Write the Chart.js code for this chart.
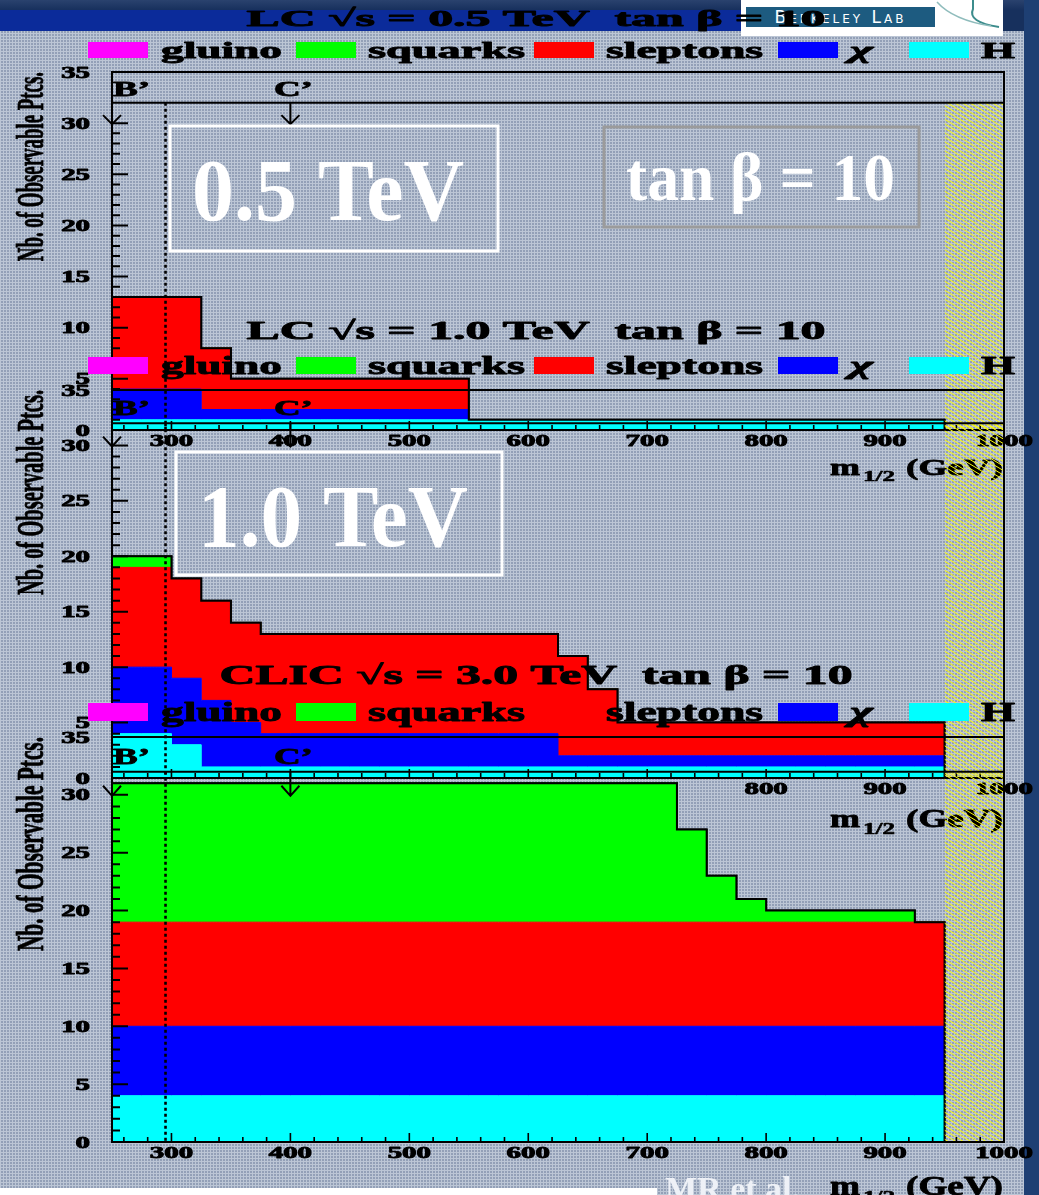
<!DOCTYPE html>
<html>
<head>
<meta charset="utf-8">
<script src="https://cdn.jsdelivr.net/npm/chart.js@4/dist/chart.umd.min.js"></script>
<style>
  html, body { margin: 0; padding: 0; }
  body {
    width: 1039px; height: 1195px; position: relative; overflow: hidden;
    background-color: #93a0b7;
    background-image:
      linear-gradient(90deg, #bcc6d5 1px, transparent 1px),
      linear-gradient(180deg, #bcc6d5 1px, transparent 1px);
    background-size: 3px 3px;
  }
  .abs { position: absolute; }
  #topband { left: 0; top: 0; width: 1039px; height: 31px; background: linear-gradient(#2a426e, #17305d 10px, #17305d); }
  #titlebar { left: 0; top: 10px; width: 741px; height: 21px; background: #0b2b9a; }
  #rstrip { left: 1024px; top: 0; width: 15px; height: 1195px; background: #1e3f73; }
  #logo { left: 741px; top: 0; width: 262px; height: 36px; background: #fff; }
  #logo .plate {
    position: absolute; left: 5px; top: 7px; width: 189px; height: 20px; background: #1d5b80;
    color: #fff; font: 17px "DejaVu Sans", sans-serif; font-variant: small-caps; letter-spacing: 3px;
    line-height: 20px; text-align: center;
  }
  #logo svg { position: absolute; left: 0; top: 0; }
  canvas { position: absolute; left: 0; top: 0; }
  #white { left: 0; top: 1188px; width: 657px; height: 7px; background: #fff; }
  #credit { left: 665px; top: 1172px; color: #eef1f7; font: bold 34px "Liberation Serif", serif; line-height: 34px; white-space: nowrap; }
</style>
</head>
<body>
<div id="topband" class="abs"></div>
<div id="titlebar" class="abs"></div>
<div id="rstrip" class="abs"></div>
<div id="logo" class="abs">
  <div class="plate">Berkeley Lab</div>
  <svg width="262" height="36">
    <path d="M232 0 L232 9 Q226 22 258 27" fill="none" stroke="#3c8c8c" stroke-width="2"/>
    <path d="M196 2 Q212 20 250 26" fill="none" stroke="#8fbcbc" stroke-width="1.5"/>
  </svg>
</div>
<canvas id="p05" width="1039" height="1195"></canvas>
<canvas id="p10" width="1039" height="1195"></canvas>
<canvas id="p30" width="1039" height="1195"></canvas>
<div id="white" class="abs"></div>
<div id="credit" class="abs">MR et al.</div>

<script>
// m_1/2 bin edges (GeV), 25 GeV bins, last edge closes the histogram
const binEdges = [250, 275, 300, 325, 350, 375, 400, 425, 450, 475, 500, 525, 550, 575, 600,
                  625, 650, 675, 700, 725, 750, 775, 800, 825, 850, 875, 900, 925, 950];

// LC 0.5 TeV
const higgs05   = [1,1,1,1,1,1,1,1,1,1,1,1,1,1,1,1,1,1,1,1,1,1,1,1,1,1,1,1];
const chi05     = [3,3,3,1,1,1,1,1,1,1,1,1,0,0,0,0,0,0,0,0,0,0,0,0,0,0,0,0];
const slepton05 = [9,9,9,6,3,3,3,3,3,3,3,3,0,0,0,0,0,0,0,0,0,0,0,0,0,0,0,0];
const squark05  = [0,0,0,0,0,0,0,0,0,0,0,0,0,0,0,0,0,0,0,0,0,0,0,0,0,0,0,0];
const gluino05  = [0,0,0,0,0,0,0,0,0,0,0,0,0,0,0,0,0,0,0,0,0,0,0,0,0,0,0,0];

// LC 1.0 TeV
const higgs10   = [4,4,3,1,1,1,1,1,1,1,1,1,1,1,1,1,1,1,1,1,1,1,1,1,1,1,1,1];
const chi10     = [6,6,6,6,4,3,3,3,3,3,3,3,3,3,3,1,1,1,1,1,1,1,1,1,1,1,1,1];
const slepton10 = [9,9,9,9,9,9,9,9,9,9,9,9,9,9,9,9,6,3,3,3,3,3,3,3,3,3,3,3];
const squark10  = [1,1,0,0,0,0,0,0,0,0,0,0,0,0,0,0,0,0,0,0,0,0,0,0,0,0,0,0];
const gluino10  = [0,0,0,0,0,0,0,0,0,0,0,0,0,0,0,0,0,0,0,0,0,0,0,0,0,0,0,0];

// CLIC 3.0 TeV
const higgs30   = [4,4,4,4,4,4,4,4,4,4,4,4,4,4,4,4,4,4,4,4,4,4,4,4,4,4,4,4];
const chi30     = [6,6,6,6,6,6,6,6,6,6,6,6,6,6,6,6,6,6,6,6,6,6,6,6,6,6,6,6];
const slepton30 = [9,9,9,9,9,9,9,9,9,9,9,9,9,9,9,9,9,9,9,9,9,9,9,9,9,9,9,9];
const squark30  = [12,12,12,12,12,12,12,12,12,12,12,12,12,12,12,12,12,12,12,8,4,2,1,1,1,1,1,0];
const gluino30  = [0,0,0,0,0,0,0,0,0,0,0,0,0,0,0,0,0,0,0,0,0,0,0,0,0,0,0,0];

// stacking order bottom -> top
const stackLabels = ['H', 'χ', 'sleptons', 'squarks', 'gluino'];
const stackColors = ['#00ffff', '#0000ff', '#ff0000', '#00ff00', '#ff00ff'];

// legend as printed (left -> right)
const legendLabels = ['gluino', 'squarks', 'sleptons', 'χ', 'H'];
const legendColors = ['#ff00ff', '#00ff00', '#ff0000', '#0000ff', '#00ffff'];

// axis ticks
const yTickLabels = [0, 5, 10, 15, 20, 25, 30, 35];
const xTickLabels = [300, 400, 500, 600, 700, 800, 900, 1000];

// reference points and excluded region
const markerLabels = ["B’", "C’"];
const markerMasses = [250, 400];
const dottedMass = 295;
const excluded = [950, 1000];
const boxTop = 32;

const SERIF = '"Liberation Serif", "DejaVu Serif", serif';

// Layout of the three overlaid panels (pixels)
const panels = [
  { id: 'p05', series: [higgs05, chi05, slepton05, squark05, gluino05],
    title: 'LC √s = 0.5 TeV  tan β = 10', titleW: 579, titleY: 26,
    legendBottom: 58, legendH: 16, yTop: 72, yZero: 430, fs: 24, xTitleY: 475,
    notes: [
      { text: '0.5 TeV', rect: [170, 126, 328, 125], border: '#ffffff', tx: 192, ty: 220, tw: 272, size: 88 },
      { text: 'tan β = 10', rect: [604, 127, 315, 100], border: '#9b9b9b', tx: 626, ty: 200, tw: 269, size: 68 },
    ] },
  { id: 'p10', series: [higgs10, chi10, slepton10, squark10, gluino10],
    title: 'LC √s = 1.0 TeV  tan β = 10', titleW: 579, titleY: 339,
    legendBottom: 374, legendH: 17, yTop: 390, yZero: 778, fs: 26, xTitleY: 827,
    notes: [
      { text: '1.0 TeV', rect: [176, 452, 326, 123], border: '#ffffff', tx: 198, ty: 546, tw: 270, size: 88 },
    ] },
  { id: 'p30', series: [higgs30, chi30, slepton30, squark30, gluino30],
    title: 'CLIC √s = 3.0 TeV  tan β = 10', titleW: 633, titleY: 684,
    legendBottom: 721, legendH: 18, yTop: 737, yZero: 1142, fs: 27, xTitleY: 1195,
    notes: [] },
];

// Stretched bold serif text (the original plot is squashed horizontally)
function stretchText(ctx, str, x, y, size, opts = {}) {
  const { width, sx = 1.7, align = 'left', color = '#000', heavy = 0, italic = false } = opts;
  ctx.save();
  ctx.font = `${italic ? 'italic ' : ''}bold ${size}px ${SERIF}`;
  const nat = ctx.measureText(str).width;
  const s = width ? width / nat : sx;
  ctx.translate(x, y);
  ctx.scale(s, 1);
  ctx.fillStyle = color;
  ctx.textAlign = 'left';
  ctx.textBaseline = 'alphabetic';
  const off = align === 'center' ? -nat / 2 : align === 'right' ? -nat : 0;
  ctx.fillText(str, off, 0);
  if (heavy) {
    ctx.strokeStyle = color;
    ctx.lineWidth = heavy;
    ctx.lineJoin = 'round';
    ctx.strokeText(str, off, 0);
  }
  ctx.restore();
  return nat * s;
}

function rotatedTitle(ctx, str, xBase, yStart, length, size, thick) {
  ctx.save();
  ctx.font = `bold ${size}px ${SERIF}`;
  const nat = ctx.measureText(str).width;
  ctx.translate(xBase, yStart);
  ctx.scale(thick, 1);
  ctx.rotate(-Math.PI / 2);
  ctx.scale(length / nat, 1);
  ctx.fillStyle = '#000';
  ctx.textBaseline = 'alphabetic';
  ctx.fillText(str, 0, 0);
  ctx.strokeStyle = '#000';
  ctx.lineWidth = 0.4;
  ctx.strokeText(str, 0, 0);
  ctx.restore();
}

function toSteps(vals) {
  return binEdges.map((e, i) => ({ x: e, y: i < vals.length ? vals[i] : 0 }));
}

function makeDecor(p) {
  const k = p.fs / 24;
  return {
    id: 'decor',
    afterDatasetsDraw(chart) {
      const { ctx, chartArea: a, scales: { x, y } } = chart;

      // total envelope (top dataset line) redrawn above the fills
      ctx.save();
      ctx.beginPath();
      ctx.rect(a.left, a.top - 2, a.right - a.left + 2, a.bottom - a.top + 2);
      ctx.clip();
      chart.getDatasetMeta(4).dataset.draw(ctx, a);
      ctx.restore();

      // excluded region hatch
      const xl = x.getPixelForValue(excluded[0]), xr = x.getPixelForValue(excluded[1]);
      const yt = y.getPixelForValue(boxTop), yb = y.getPixelForValue(0);
      ctx.save();
      ctx.beginPath();
      ctx.rect(xl, yt, xr - xl, yb - yt);
      ctx.clip();
      ctx.strokeStyle = '#ffff00';
      ctx.lineWidth = 1;
      ctx.beginPath();
      for (let yy = yt - 60; yy < yb; yy += 4.5) {
        ctx.moveTo(xl, yy);
        ctx.lineTo(xr, yy + 0.6 * (xr - xl));
      }
      ctx.stroke();
      ctx.restore();

      // dotted reference line
      ctx.save();
      ctx.strokeStyle = '#000';
      ctx.lineWidth = 2.6;
      ctx.setLineDash([3, 3]);
      ctx.beginPath();
      const xd = x.getPixelForValue(dottedMass);
      ctx.moveTo(xd, yt);
      ctx.lineTo(xd, yb);
      ctx.stroke();
      ctx.restore();

      // frame and inner line
      ctx.save();
      ctx.strokeStyle = '#000';
      ctx.lineWidth = 2;
      ctx.strokeRect(a.left, a.top, a.right - a.left, a.bottom - a.top);
      ctx.beginPath();
      ctx.moveTo(a.left, yt);
      ctx.lineTo(a.right, yt);
      ctx.stroke();

      // y ticks (inward)
      ctx.beginPath();
      for (let v = 0; v <= 30; v++) {
        const py = y.getPixelForValue(v);
        const len = v % 5 === 0 ? 16 : 8;
        ctx.moveTo(a.left, py);
        ctx.lineTo(a.left + len, py);
      }
      ctx.stroke();

      // x ticks (inward)
      ctx.lineWidth = 1.6;
      ctx.beginPath();
      for (let m = 260; m <= 1000; m += 20) {
        const px = x.getPixelForValue(m);
        const len = m % 100 === 0 ? 9 : 5;
        ctx.moveTo(px, a.bottom);
        ctx.lineTo(px, a.bottom - len);
      }
      ctx.stroke();

      // marker arrows
      ctx.lineWidth = 2;
      const yArrow = y.getPixelForValue(30) + 1;
      markerMasses.forEach((m, i) => {
        const px = x.getPixelForValue(m);
        ctx.beginPath();
        if (i > 0) { ctx.moveTo(px, yt); ctx.lineTo(px, yArrow); }
        ctx.moveTo(px - 9, yArrow - 9 * k);
        ctx.lineTo(px, yArrow);
        ctx.lineTo(px + 9, yArrow - 9 * k);
        ctx.stroke();
      });
      ctx.restore();

      // marker labels
      const yLab = y.getPixelForValue(32.7);
      markerLabels.forEach((lab, i) => {
        const px = x.getPixelForValue(markerMasses[i]);
        if (i === 0) stretchText(ctx, lab, px + 1, yLab, 20 * k, { width: 37, heavy: 0.8 });
        else stretchText(ctx, lab, px + 3, yLab, 20 * k, { width: 39, align: 'center', heavy: 0.8 });
      });
    },
    afterDraw(chart) {
      const { ctx, chartArea: a, scales: { x, y } } = chart;

      // tick labels
      yTickLabels.forEach(v => {
        stretchText(ctx, String(v), a.left - 22, y.getPixelForValue(v) + 5.5, 16.5, { sx: 1.75, align: 'right', heavy: 0.9 });
      });
      xTickLabels.forEach(m => {
        stretchText(ctx, String(m), x.getPixelForValue(m), a.bottom + 16, 16.5, { sx: 1.75, align: 'center', heavy: 0.9 });
      });

      // axis titles
      const y0 = y.getPixelForValue(16.5), y1 = y.getPixelForValue(35);
      rotatedTitle(ctx, 'Nb. of Observable Ptcs.', 43, y0, y0 - y1, 19, 2.0);
      stretchText(ctx, 'm', 830, p.xTitleY, p.fs, { width: 30, heavy: 0.8 });
      stretchText(ctx, '1/2', 863, p.xTitleY + 6 * k, p.fs * 0.65, { width: 32, heavy: 0.6 });
      stretchText(ctx, '(GeV)', 906, p.xTitleY, p.fs, { width: 97, heavy: 0.8 });

      // title
      stretchText(ctx, p.title, 536, p.titleY, p.fs, { width: p.titleW, align: 'center', heavy: 0.9 });

      // legend
      const boxX = [88, 296, 534, 778, 909];
      const textX = [161, 368, 606, 850, 981];
      const textW = [121, 157, 157, 23, 34];
      legendLabels.forEach((lab, i) => {
        ctx.fillStyle = legendColors[i];
        ctx.fillRect(boxX[i], p.legendBottom - p.legendH, 60, p.legendH);
        stretchText(ctx, lab, textX[i], p.legendBottom, p.fs, { width: textW[i], heavy: 0.9, italic: lab === 'χ' });
      });

      // annotation boxes
      p.notes.forEach(n => {
        ctx.save();
        ctx.strokeStyle = n.border;
        ctx.lineWidth = 3;
        ctx.strokeRect(n.rect[0], n.rect[1], n.rect[2], n.rect[3]);
        ctx.restore();
        stretchText(ctx, n.text, n.tx, n.ty, n.size, { width: n.tw, color: '#ffffff' });
      });
    },
  };
}

panels.forEach(p => {
  const datasets = p.series.map((vals, i) => ({
    label: stackLabels[i],
    data: toSteps(vals),
    stepped: true,
    fill: i === 0 ? 'origin' : '-1',
    backgroundColor: stackColors[i],
    borderColor: i === 4 ? '#000000' : stackColors[i],
    borderWidth: i === 4 ? 2 : 1,
    pointRadius: 0,
    tension: 0,
  }));

  new Chart(document.getElementById(p.id), {
    type: 'line',
    data: { datasets },
    options: {
      responsive: false,
      animation: false,
      events: [],
      layout: { padding: { left: 112, right: 35, top: p.yTop, bottom: 1195 - p.yZero } },
      scales: {
        x: { type: 'linear', min: 250, max: 1000, display: false },
        y: { type: 'linear', min: 0, max: 35, stacked: true, display: false },
      },
      plugins: { legend: { display: false }, tooltip: { enabled: false } },
    },
    plugins: [makeDecor(p)],
  });
});
</script>
</body>
</html>
